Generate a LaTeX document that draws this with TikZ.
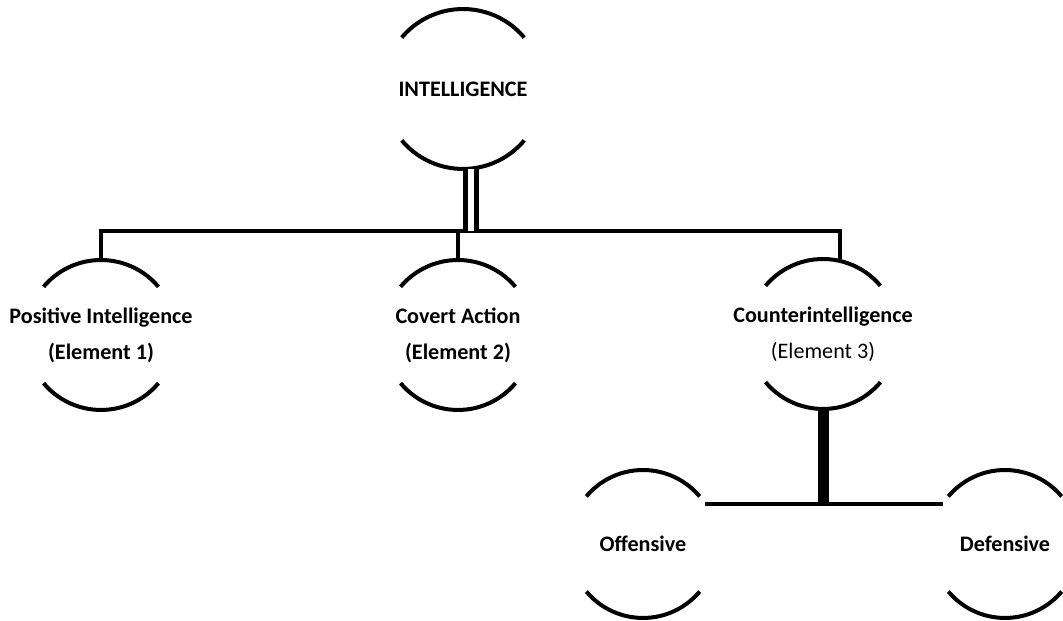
\documentclass[tikz,border=0pt]{standalone}
\usepackage{fontspec}
\setmainfont{Carlito}
\tikzset{
  ring/.style={circle, minimum size=#1, inner sep=0pt, outer sep=0pt},
  ringtext/.style={align=center, font=\fontsize{12.6}{20.4}\selectfont\bfseries},
  arcline/.style={line width=0.08cm},
  link/.style={line width=0.08cm},
  twin/.style={double, line width=0.1cm, double distance=0.12cm},
  trunk/.style={line width=0.22cm}
}
% top and bottom arcs of a ring node
\newcommand{\ringarcs}[2]{%
  \draw[arcline] (#1.40) arc[start angle=40, end angle=140, radius=#2];
  \draw[arcline] (#1.220) arc[start angle=220, end angle=320, radius=#2];}
\begin{document}
\begin{tikzpicture}[x=0.02cm, y=0.02cm]
  \useasboundingbox (0, 0) rectangle (1063, 621);

  \node[ring=3.2cm, label={[ringtext]center:INTELLIGENCE}] (intel) at (463, 532) {};
  \node[ring=3cm, label={[ringtext]center:Positive Intelligence\\(Element 1)}] (pos) at (101, 286) {};
  \node[ring=3cm, label={[ringtext]center:Covert Action\\(Element 2)}] (covert) at (458, 286) {};
  \node[ring=3cm, label={[ringtext]center:Counterintelligence\\{\mdseries (Element 3)}}] (counter) at (823, 287) {};
  \node[ring=2.96cm, label={[ringtext]center:Offensive}] (off) at (643, 77) {};
  \node[ring=2.96cm, label={[ringtext]center:Defensive}] (def) at (1005, 77) {};

  \ringarcs{intel}{1.6cm}
  \ringarcs{pos}{1.5cm}
  \ringarcs{covert}{1.5cm}
  \ringarcs{counter}{1.5cm}
  \ringarcs{off}{1.48cm}
  \ringarcs{def}{1.48cm}

  \coordinate (stem) at (471, 390);
  \coordinate (busR) at (840, 390);

  \draw[link] (pos.north) |- (busR) -- (busR |- counter.north);
  \draw[link] (covert.north) -- (covert.north |- busR);
  \draw[twin] (intel.south -| stem) -- (stem);

  \draw[link] (off.33) -- (def.147);
  \draw[trunk] (counter.south) -- (counter.south |- off.33);
\end{tikzpicture}
\end{document}
